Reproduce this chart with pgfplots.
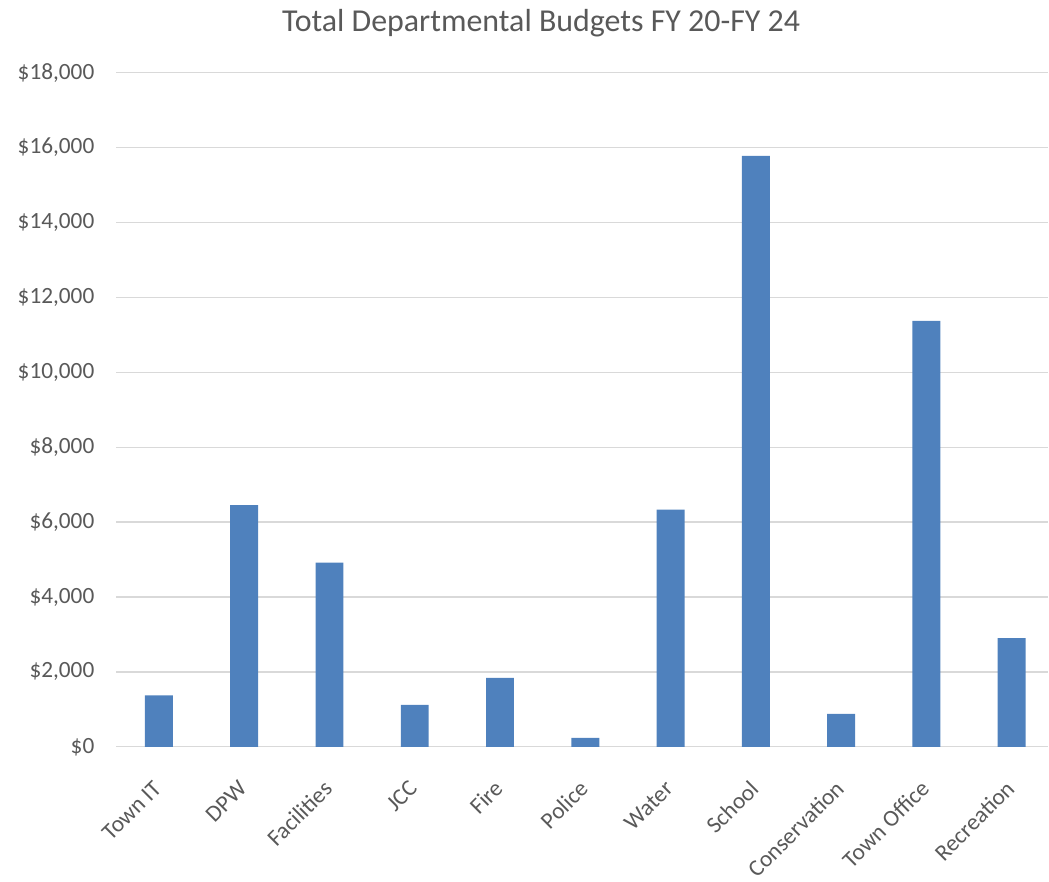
\documentclass[border=0pt]{standalone}
\usepackage{pgfplots}
\pgfplotsset{compat=1.18}
\usepackage{fontspec}
\setmainfont{Carlito}
\definecolor{barblue}{HTML}{4F81BD}
\definecolor{gridgray}{HTML}{D9D9D9}
\definecolor{txtgray}{HTML}{595959}
\begin{document}
\begin{tikzpicture}
\begin{axis}[
  scale only axis,
  width=701pt, height=507pt,
  xmin=-0.5, xmax=10.43,
  ymin=0, ymax=18000,
  ytick={0,2000,...,18000},
  xtick={0,...,10},
  xticklabels={Town IT,DPW,Facilities,JCC,Fire,Police,Water,School,Conservation,Town Office,Recreation},
  x tick label style={xshift=-1pt, yshift=-28.5pt, rotate=45, anchor=east, font=\fontsize{17.5}{20}\selectfont, text=txtgray, inner sep=0pt},
  y tick label style={font=\fontsize{17.5}{20}\selectfont, text=txtgray, xshift=-13pt},
  scaled y ticks=false,
  yticklabel={\$\pgfmathprintnumber{\tick}},
  /pgf/number format/.cd, 1000 sep={,}, fixed, assume math mode=true,
  /pgfplots/.cd,
  ymajorgrids,
  grid style={gridgray, line width=1pt},
  axis line style={draw=none},
  major tick length=0pt,
  xtick style={draw=none}, ytick style={draw=none},
  title={Total Departmental Budgets FY 20-FY 24},
  title style={font=\fontsize{24}{28}\selectfont, text=txtgray, yshift=17pt, xshift=-31pt},
  ybar, bar width=21pt,
]
\addplot[fill=barblue, draw=none] coordinates {
(0,1370) (1,6450) (2,4920) (3,1120) (4,1840) (5,240) (6,6330) (7,15780) (8,880) (9,11370) (10,2900)
};
\end{axis}
\path ([xshift=-10pt]current bounding box.west);
\path ([yshift=-2pt]current bounding box.south);
\path ([yshift=4pt]current bounding box.north);
\end{tikzpicture}
\end{document}
